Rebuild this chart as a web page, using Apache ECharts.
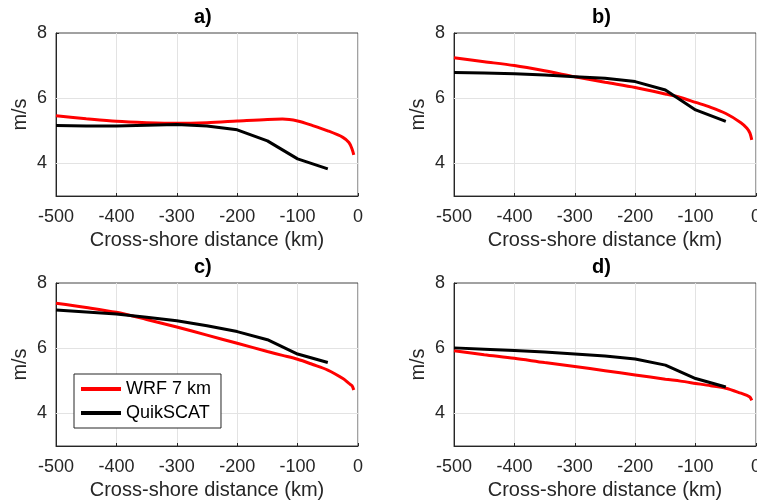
<!DOCTYPE html>
<html>
<head>
<meta charset="utf-8">
<script src="https://cdn.jsdelivr.net/npm/echarts@6/dist/echarts.min.js"></script>
<style>html,body{margin:0;padding:0;background:#fff}#c{width:757px;height:503px}</style>
</head>
<body>
<div id="c"></div>
<script>
const panelTitles = ['a)', 'b)', 'c)', 'd)'];
const xTicks = [-500, -400, -300, -200, -100, 0];
const yTicks = [4, 6, 8];
const distWRF = [-500, -450, -400, -350, -300, -250, -200, -150, -125, -100, -75, -50, -25, -15, -10, -7];
const distQS = [-500, -450, -400, -350, -300, -250, -200, -150, -100, -50];

const wrfA = [5.46, 5.37, 5.29, 5.25, 5.23, 5.25, 5.30, 5.35, 5.36, 5.30, 5.16, 5.00, 4.80, 4.64, 4.45, 4.26];
const qsA  = [5.16, 5.15, 5.15, 5.17, 5.19, 5.15, 5.03, 4.69, 4.14, 3.83];
const wrfB = [7.24, 7.12, 7.00, 6.84, 6.66, 6.49, 6.33, 6.13, 6.02, 5.87, 5.72, 5.53, 5.25, 5.08, 4.93, 4.72];
const qsB  = [6.79, 6.77, 6.75, 6.71, 6.66, 6.61, 6.51, 6.25, 5.64, 5.29];
const wrfC = [7.38, 7.25, 7.10, 6.88, 6.65, 6.40, 6.15, 5.90, 5.78, 5.66, 5.50, 5.33, 5.07, 4.92, 4.85, 4.72];
const qsC  = [7.17, 7.11, 7.05, 6.95, 6.84, 6.69, 6.51, 6.26, 5.82, 5.56];
const wrfD = [5.92, 5.80, 5.69, 5.56, 5.44, 5.31, 5.18, 5.05, 4.99, 4.92, 4.85, 4.77, 4.62, 4.55, 4.50, 4.40];
const qsD  = [6.01, 5.97, 5.93, 5.88, 5.82, 5.76, 5.67, 5.48, 5.07, 4.81];

const wrfAll = [wrfA, wrfB, wrfC, wrfD];
const qsAll = [qsA, qsB, qsC, qsD];

const FONT = 'Liberation Sans, Arial, Helvetica, sans-serif';
const TXT = '#262626';
const GRIDC = '#e3e3e3';

const gridPos = [
  {left: 56, top: 33},
  {left: 454, top: 33},
  {left: 56, top: 283},
  {left: 454, top: 283}
];

const grids = [], xAxes = [], yAxes = [], series = [], titles = [];
gridPos.forEach((p, i) => {
  grids.push({left: p.left, top: p.top, width: 302, height: 163, show: true,
    outerBoundsMode: 'none', containLabel: false,
    borderColor: '#444', borderWidth: 1, backgroundColor: '#fff'});
  titles.push({text: panelTitles[i], left: p.left + 138, top: p.top - 26, padding: 0,
    textStyle: {fontFamily: FONT, fontSize: 20, fontWeight: 'bold', color: '#000'}});
  xAxes.push({type: 'value', gridIndex: i, min: -500, max: 0, interval: 100,
    name: 'Cross-shore distance (km)', nameLocation: 'middle', nameGap: 34,
    nameTextStyle: {fontFamily: FONT, fontSize: 20, color: TXT},
    axisLine: {show: true, onZero: false, lineStyle: {color: TXT, width: 1}},
    axisTick: {show: true, inside: true, length: 3, lineStyle: {color: TXT}},
    axisLabel: {fontFamily: FONT, fontSize: 18, color: TXT, margin: 12,
      customValues: xTicks},
    splitLine: {show: true, lineStyle: {color: GRIDC, width: 1}}});
  yAxes.push({type: 'value', gridIndex: i, min: 3, max: 8,
    name: 'm/s', nameLocation: 'middle', nameGap: 26,
    nameTextStyle: {fontFamily: FONT, fontSize: 20, color: TXT},
    axisLine: {show: true, onZero: false, lineStyle: {color: TXT, width: 1}},
    axisTick: {show: true, inside: true, length: 3, lineStyle: {color: TXT}, customValues: yTicks},
    axisLabel: {fontFamily: FONT, fontSize: 18, color: TXT, margin: 9, customValues: yTicks},
    splitLine: {show: false}});
  series.push({name: 'WRF 7 km', type: 'line', xAxisIndex: i, yAxisIndex: i,
    data: distWRF.map((d, k) => [d, wrfAll[i][k]]), smooth: 0.3, symbol: 'none',
    lineStyle: {color: '#ff0000', width: 3}, itemStyle: {color: '#ff0000'}, z: 3,
    markLine: {silent: true, symbol: 'none', label: {show: false},
      lineStyle: {color: GRIDC, width: 1, type: 'solid'},
      data: yTicks.filter(v => v < 8).map(v => ({yAxis: v})), z: 1}});
  series.push({name: 'QuikSCAT', type: 'line', xAxisIndex: i, yAxisIndex: i,
    data: distQS.map((d, k) => [d, qsAll[i][k]]), symbol: 'none',
    lineStyle: {color: '#000000', width: 3}, itemStyle: {color: '#000000'}, z: 4});
});

const chart = echarts.init(document.getElementById('c'), null, {renderer: 'canvas'});
chart.setOption({
  animation: false,
  backgroundColor: '#fff',
  title: titles,
  grid: grids,
  xAxis: xAxes,
  yAxis: yAxes,
  legend: {data: ['WRF 7 km', 'QuikSCAT'], orient: 'vertical', left: 74, top: 374,
    padding: [6, 10, 6, 7], itemWidth: 40, itemHeight: 4, itemGap: 6, icon: 'rect',
    backgroundColor: '#fff', borderColor: TXT, borderWidth: 1, selectedMode: false,
    textStyle: {fontFamily: FONT, fontSize: 18, color: '#000', lineHeight: 18}},
  series: series
});
</script>
</body>
</html>
